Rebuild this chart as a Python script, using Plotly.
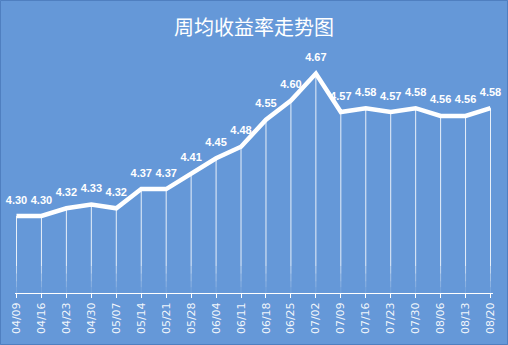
import plotly.graph_objects as go

dates = ["04/09", "04/16", "04/23", "04/30", "05/07", "05/14", "05/21", "05/28",
         "06/04", "06/11", "06/18", "06/25", "07/02", "07/09", "07/16", "07/23",
         "07/30", "08/06", "08/13", "08/20"]
values = [4.30, 4.30, 4.32, 4.33, 4.32, 4.37, 4.37, 4.41, 4.45, 4.48, 4.55, 4.60,
          4.67, 4.57, 4.58, 4.57, 4.58, 4.56, 4.56, 4.58]
title = "周均收益率走势图"
y_min, y_max = 4.10, 4.70

W, H = 508, 345
L, R, T, B = 15, 15, 62, 52
BG = "#6598D8"

xs = list(range(len(dates)))
fig = go.Figure()

# drop lines, fading toward the axis
bands = [(4.17, None, 0.85), (4.15, 4.17, 0.6), (4.13, 4.15, 0.4),
         (4.115, 4.13, 0.25), (4.10, 4.115, 0.12)]
for lo, hi, op in bands:
    dx, dy = [], []
    for x, v in zip(xs, values):
        top = v if hi is None else min(hi, v)
        dx += [x, x, None]
        dy += [top, lo, None]
    fig.add_trace(go.Scatter(x=dx, y=dy, mode="lines",
                             line=dict(color=f"rgba(255,255,255,{op})", width=1),
                             hoverinfo="skip", showlegend=False))

# main line with labels
fig.add_trace(go.Scatter(
    x=xs, y=values, mode="lines+markers+text",
    line=dict(color="white", width=4.5),
    marker=dict(size=14, color="rgba(0,0,0,0)"),
    text=[f"{v:.2f}" for v in values], textposition="top center",
    textfont=dict(family="Liberation Sans, Arial", size=11, color="white", weight="bold"),
    cliponaxis=False, showlegend=False))

fig.update_layout(
    width=W, height=H, margin=dict(l=L, r=R, t=T, b=B, autoexpand=False),
    paper_bgcolor=BG, plot_bgcolor=BG,
    title=dict(text=title, x=0.5, xanchor="center", y=1 - 28 / H, yanchor="middle",
               font=dict(family="Noto Sans CJK SC", size=20, color="white")),
    xaxis=dict(range=[-0.06, len(dates) - 1 + 0.1], tickmode="array", tickvals=xs,
               ticktext=dates, tickangle=-90, showgrid=False, zeroline=False,
               showline=True, linecolor="white", linewidth=1,
               ticks="outside", ticklen=4, tickcolor="white",
               tickfont=dict(family="DejaVu Sans", size=11, color="rgba(255,255,255,0.92)")),
    yaxis=dict(range=[y_min, y_max], visible=False),
    shapes=[dict(type="rect", xref="paper", yref="paper",
                 x0=-(L - 0.5) / (W - L - R), x1=1 + (R - 0.5) / (W - L - R),
                 y0=-(B - 0.5) / (H - T - B), y1=1 + (T - 0.5) / (H - T - B),
                 line=dict(color="#4F7FC0", width=1))],
)

fig.write_html("out.html")
